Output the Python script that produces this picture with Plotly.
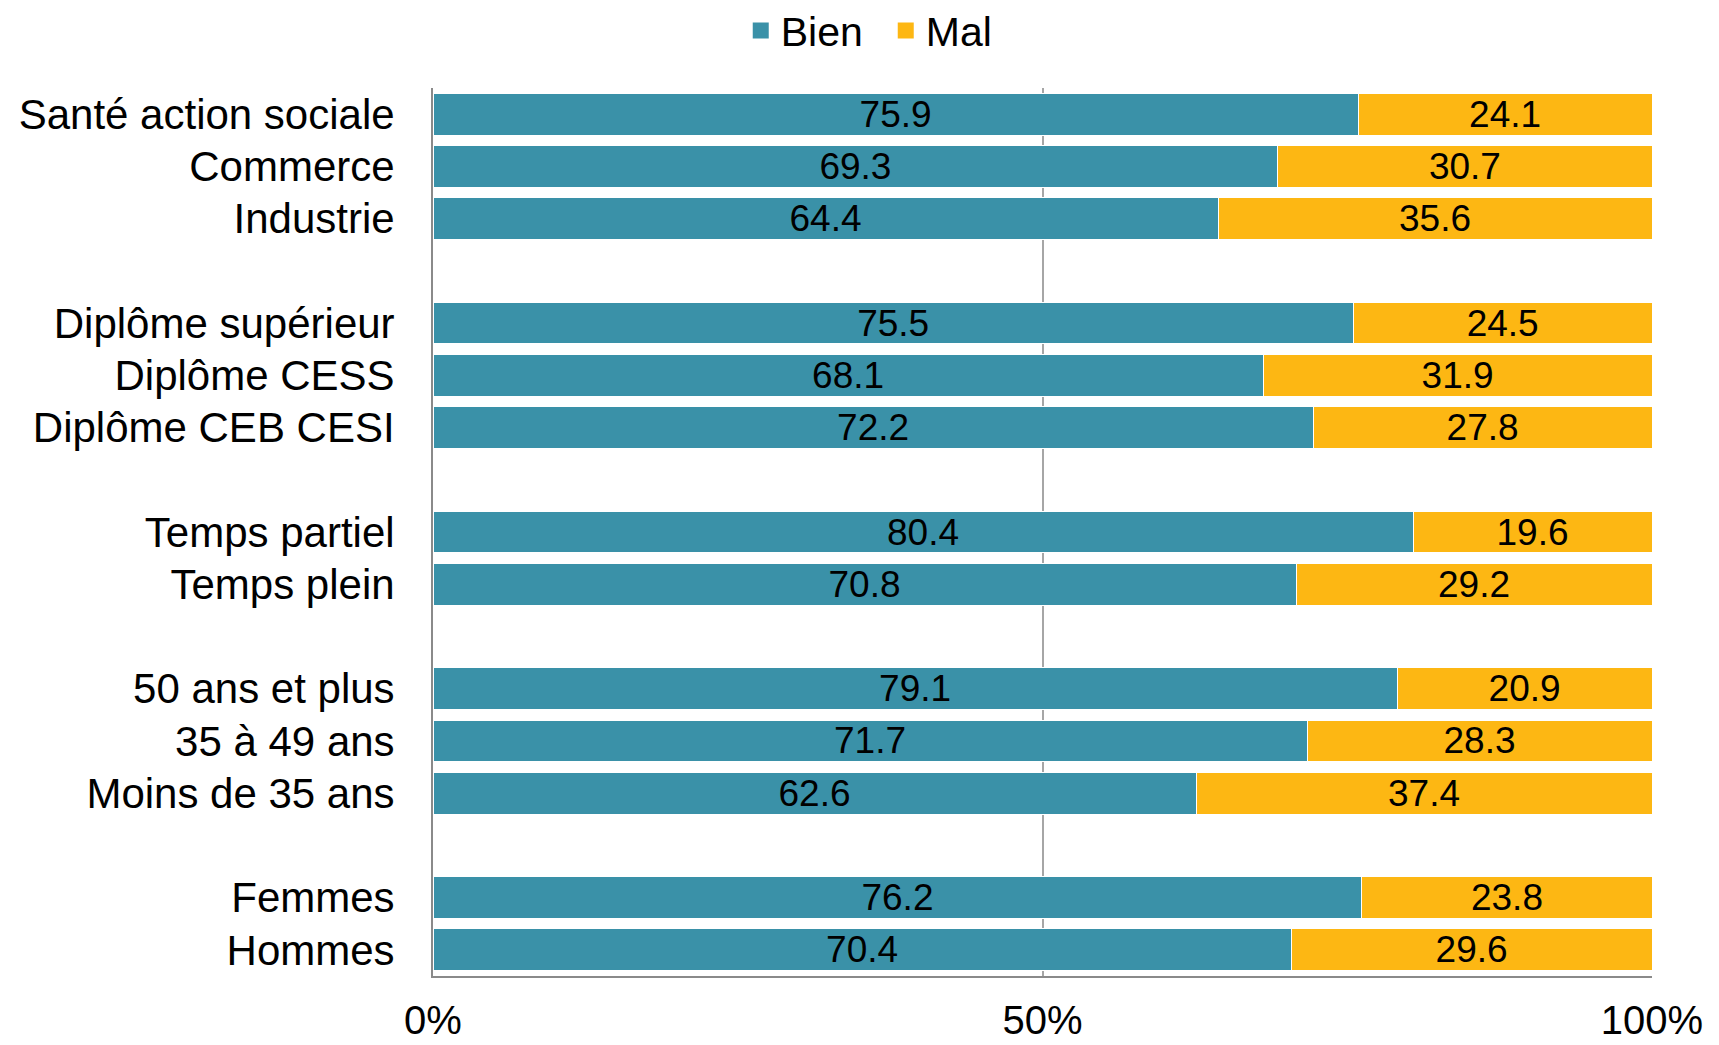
import plotly.graph_objects as go

# --- Données (en %) ---
categories = [
    "Santé action sociale", "Commerce", "Industrie", " ",
    "Diplôme supérieur", "Diplôme CESS", "Diplôme CEB CESI", "  ",
    "Temps partiel", "Temps plein", "   ",
    "50 ans et plus", "35 à 49 ans", "Moins de 35 ans", "    ",
    "Femmes", "Hommes",
]
bien = [75.9, 69.3, 64.4, None, 75.5, 68.1, 72.2, None, 80.4, 70.8, None,
        79.1, 71.7, 62.6, None, 76.2, 70.4]
mal = [24.1, 30.7, 35.6, None, 24.5, 31.9, 27.8, None, 19.6, 29.2, None,
       20.9, 28.3, 37.4, None, 23.8, 29.6]

x_ticks = [0, 50, 100]
x_ticklabels = ["0%", "50%", "100%"]

FONT = "Liberation Sans, Arial, sans-serif"
colors = {"Bien": "#3A91A8", "Mal": "#FDB713"}

fig = go.Figure()

for name, vals in [("Bien", bien), ("Mal", mal)]:
    fig.add_trace(go.Bar(
        y=categories, x=vals, name=name, orientation="h", showlegend=False,
        marker=dict(color=colors[name], line=dict(color="white", width=1)),
        text=[f"{v:.1f}" if v is not None else "" for v in vals],
        textposition="inside", insidetextanchor="middle", textangle=0,
        textfont=dict(size=37, color="black", family=FONT),
        constraintext="none",
    ))

# entrées de légende avec de plus grands carrés
for name in ["Bien", "Mal"]:
    fig.add_trace(go.Scatter(
        x=[None], y=[None], mode="markers", name=name,
        marker=dict(symbol="square", size=20, color=colors[name]),
    ))

fig.update_layout(
    barmode="stack",
    bargap=0.2,
    width=1711, height=1037,
    margin=dict(l=425, r=67, t=80, b=69),
    paper_bgcolor="white", plot_bgcolor="white",
    font=dict(family=FONT, size=42, color="black"),
    legend=dict(
        orientation="h", xref="container", yref="container",
        x=0.513, xanchor="center", y=0.978, yanchor="middle",
        font=dict(size=41), itemwidth=30, traceorder="normal",
        entrywidth=100, itemsizing="trace",
    ),
    xaxis=dict(
        range=[0, 100], tickvals=x_ticks, ticktext=x_ticklabels,
        tickfont=dict(size=40),
        showgrid=True, gridcolor="#A6A6A6", gridwidth=2,
        showline=True, linecolor="#8A8A8A", linewidth=2,
        ticks="", ticklabelstandoff=8, zeroline=False, automargin=False,
    ),
    yaxis=dict(
        type="category", categoryorder="array", categoryarray=categories,
        autorange="reversed", showgrid=False,
        showline=True, linecolor="#8A8A8A", linewidth=2,
        ticks="", ticklabelstandoff=28, automargin=False,
    ),
)

fig.write_html("out.html")
